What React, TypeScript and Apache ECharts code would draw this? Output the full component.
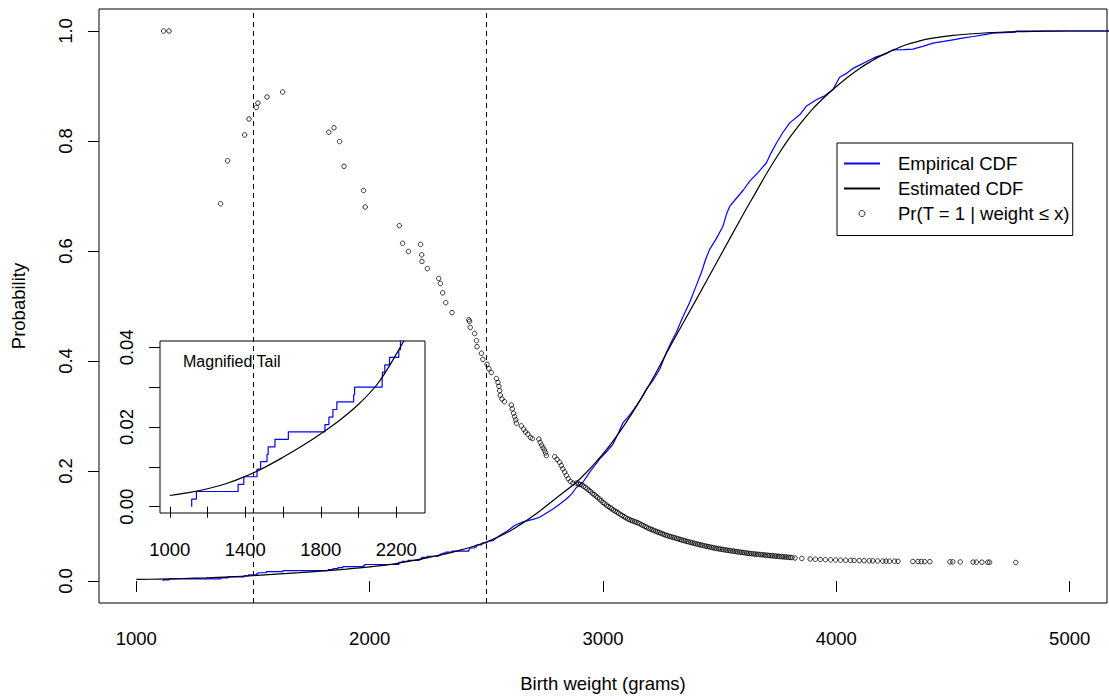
import React, { useEffect, useRef } from "react";
import * as echarts from "echarts";

const FONT = '"Liberation Sans", Arial, Helvetica, sans-serif';
const FS = 18.5;

// ---- Tick values ----
const mainXTicks = [1000, 2000, 3000, 4000, 5000];
const mainYTicks = [0, 0.2, 0.4, 0.6, 0.8, 1.0];
const insetXTicks = [1000, 1200, 1400, 1600, 1800, 2000, 2200];
const insetXLabels = [1000, 1400, 1800, 2200];
const insetYTicks = [0, 0.01, 0.02, 0.03, 0.04];
const insetYLabels = [0, 0.02, 0.04];
const cutoffs = [1500, 2500];

// ---- Estimated CDF (smooth curve) ----
const estX = [1000, 1100, 1200, 1300, 1400, 1500, 1600, 1700, 1800, 1900, 2000, 2100, 2200, 2300, 2400, 2500, 2600, 2700, 2800, 2900, 3000, 3100, 3200, 3300, 3400, 3500, 3600, 3650, 3700, 3750, 3800, 3850, 3900, 3950, 4000, 4050, 4100, 4150, 4200, 4250, 4300, 4350, 4400, 4500, 4600, 4700, 4800, 4900, 5000, 5200];
const estY = [0.0028, 0.0035, 0.0045, 0.0058, 0.0076, 0.0098, 0.0124, 0.0152, 0.0183, 0.0217, 0.0257, 0.0308, 0.0383, 0.047, 0.0575, 0.071, 0.0905, 0.118, 0.151, 0.185, 0.231, 0.289, 0.358, 0.436, 0.512, 0.589, 0.666, 0.703, 0.74, 0.7745, 0.806, 0.834, 0.859, 0.88, 0.899, 0.9165, 0.932, 0.945, 0.957, 0.9665, 0.975, 0.981, 0.986, 0.992, 0.9955, 0.9977, 0.999, 0.9996, 1.0, 1.0];

// ---- Empirical CDF: lower tail as steps ----
const ecdfStepX = [1116, 1116, 1141, 1362, 1392, 1462, 1481, 1515, 1521, 1557, 1628, 1822, 1843, 1864, 1885, 1974, 1979, 2125, 2127, 2139, 2164, 2213, 2222, 2224, 2247, 2296, 2303, 2313, 2326, 2353, 2425, 2428, 2431, 2450, 2458, 2460, 2479, 2485, 2503];
const ecdfStepY = [0, 0.0019, 0.0038, 0.0056, 0.0075, 0.0094, 0.0113, 0.0131, 0.015, 0.0169, 0.0188, 0.0206, 0.0225, 0.0244, 0.0263, 0.0281, 0.03, 0.0319, 0.0338, 0.0356, 0.0375, 0.0394, 0.0413, 0.0431, 0.045, 0.0469, 0.0488, 0.0506, 0.0525, 0.0544, 0.0563, 0.0581, 0.06, 0.0619, 0.0638, 0.0656, 0.0675, 0.0694, 0.0713];

// ---- Empirical CDF: body (dense steps read as a jagged line) ----
const ecdfBodyX = [2503, 2530, 2557, 2590, 2621, 2660, 2700, 2728, 2760, 2786, 2815, 2843, 2865, 2886, 2914, 2943, 2965, 2986, 3015, 3043, 3065, 3086, 3115, 3143, 3165, 3186, 3215, 3243, 3271, 3290, 3314, 3340, 3371, 3395, 3421, 3440, 3457, 3485, 3514, 3530, 3543, 3570, 3600, 3629, 3665, 3700, 3720, 3743, 3770, 3800, 3843, 3871, 3914, 3950, 3986, 4014, 4040, 4071, 4100, 4128, 4171, 4210, 4243, 4290, 4328, 4370, 4414, 4460, 4500, 4540, 4586, 4630, 4671, 4720, 4768, 4769, 5200];
const ecdfBodyY = [0.0713, 0.074, 0.0827, 0.091, 0.101, 0.108, 0.112, 0.116, 0.124, 0.131, 0.14, 0.149, 0.158, 0.17, 0.1796, 0.198, 0.21, 0.222, 0.235, 0.249, 0.268, 0.288, 0.302, 0.3185, 0.333, 0.349, 0.365, 0.385, 0.415, 0.432, 0.4517, 0.478, 0.506, 0.532, 0.56, 0.585, 0.603, 0.622, 0.645, 0.668, 0.681, 0.695, 0.71, 0.727, 0.743, 0.76, 0.778, 0.796, 0.815, 0.833, 0.8476, 0.863, 0.875, 0.882, 0.894, 0.916, 0.922, 0.932, 0.938, 0.944, 0.953, 0.958, 0.9655, 0.966, 0.967, 0.972, 0.978, 0.981, 0.984, 0.987, 0.99, 0.993, 0.996, 0.997, 0.998, 1.0, 1.0];

// ---- Pr(T = 1 | weight <= x) points ----
const prSparseX = [1117, 1140, 1361, 1391, 1464, 1483, 1514, 1521, 1560, 1627, 1825, 1847, 1871, 1890, 1974, 1981, 2127, 2141, 2166, 2218, 2223, 2224, 2247, 2296, 2303, 2313, 2326, 2353, 2425, 2428, 2431, 2450, 2458, 2460, 2479, 2485, 2503, 2511, 2521, 2543, 2550, 2554, 2557, 2560, 2567, 2578, 2607, 2611, 2617, 2621, 2626, 2629, 2650, 2660, 2668, 2678, 2689, 2697, 2725, 2731, 2737, 2743, 2749, 2754, 2757, 2793, 2803, 2814, 2821, 2828, 2836, 2843, 2851, 2860, 2871, 2886];
const prSparseY = [1.0, 1.0, 0.686, 0.764, 0.811, 0.84, 0.861, 0.869, 0.88, 0.889, 0.816, 0.824, 0.799, 0.754, 0.71, 0.68, 0.646, 0.614, 0.599, 0.612, 0.593, 0.581, 0.568, 0.55, 0.541, 0.524, 0.506, 0.488, 0.475, 0.472, 0.461, 0.45, 0.437, 0.426, 0.414, 0.403, 0.394, 0.386, 0.379, 0.368, 0.361, 0.354, 0.346, 0.338, 0.331, 0.326, 0.32, 0.313, 0.305, 0.299, 0.293, 0.287, 0.282, 0.276, 0.271, 0.267, 0.261, 0.259, 0.258, 0.252, 0.247, 0.242, 0.238, 0.233, 0.228, 0.226, 0.221, 0.216, 0.21, 0.204, 0.198, 0.192, 0.186, 0.181, 0.178, 0.178];
const prBandX = [2895, 2910, 2925, 2940, 2955, 2970, 2985, 3000, 3015, 3030, 3045, 3060, 3075, 3090, 3105, 3120, 3135, 3150, 3165, 3180, 3195, 3210, 3225, 3240, 3255, 3270, 3285, 3300, 3315, 3330, 3345, 3360, 3375, 3390, 3405, 3420, 3435, 3450, 3465, 3480, 3495, 3510, 3525, 3540, 3555, 3570, 3585, 3600, 3615, 3630, 3645, 3660, 3675, 3690, 3705, 3720, 3735, 3750, 3765, 3780, 3795, 3810];
const prBandY = [0.1765, 0.1745, 0.17, 0.165, 0.1595, 0.1545, 0.149, 0.143, 0.138, 0.1335, 0.129, 0.1252, 0.121, 0.117, 0.1132, 0.1105, 0.1082, 0.1057, 0.1025, 0.0993, 0.096, 0.0933, 0.0908, 0.0883, 0.0858, 0.0832, 0.0812, 0.0794, 0.0776, 0.0757, 0.0738, 0.072, 0.0703, 0.0687, 0.067, 0.0654, 0.064, 0.0626, 0.0612, 0.0598, 0.0586, 0.0576, 0.0565, 0.0555, 0.0545, 0.0536, 0.0527, 0.0518, 0.0509, 0.05, 0.0493, 0.0487, 0.048, 0.0474, 0.0467, 0.0461, 0.0455, 0.0449, 0.0443, 0.0437, 0.0431, 0.0426];
const prBand2X = [2902, 2917, 2932, 2947, 2962, 2977, 2992, 3007, 3022, 3037, 3052, 3067, 3082, 3097, 3112, 3127, 3142, 3157, 3172, 3187, 3202, 3217, 3232, 3247, 3262, 3277, 3292, 3307, 3322, 3337, 3352, 3367, 3382, 3397, 3412, 3427, 3442, 3457, 3472, 3487, 3502, 3517, 3532, 3547, 3562, 3577, 3592, 3607, 3622, 3637, 3652, 3667, 3682, 3697, 3712, 3727, 3742, 3757, 3772, 3787, 3802];
const prBand2Y = [0.1755, 0.1722, 0.1675, 0.1622, 0.157, 0.1517, 0.146, 0.1405, 0.1357, 0.1312, 0.1271, 0.1231, 0.119, 0.1151, 0.1118, 0.1093, 0.107, 0.1041, 0.1009, 0.0976, 0.0946, 0.092, 0.0895, 0.087, 0.0845, 0.0822, 0.0803, 0.0785, 0.0766, 0.0747, 0.0729, 0.0711, 0.0695, 0.0678, 0.0662, 0.0647, 0.0633, 0.0619, 0.0605, 0.0592, 0.0581, 0.057, 0.056, 0.055, 0.054, 0.0531, 0.0522, 0.0513, 0.0504, 0.0496, 0.049, 0.0483, 0.0477, 0.047, 0.0464, 0.0458, 0.0452, 0.0446, 0.044, 0.0434, 0.0428];
const prTailX = [3823, 3852, 3888, 3910, 3931, 3953, 3975, 3997, 4018, 4040, 4061, 4076, 4098, 4119, 4141, 4156, 4177, 4199, 4213, 4228, 4249, 4264, 4328, 4350, 4364, 4379, 4401, 4487, 4499, 4531, 4586, 4600, 4624, 4649, 4657, 4769];
const prTailY = [0.0418, 0.041, 0.04, 0.0396, 0.0392, 0.0388, 0.0385, 0.0382, 0.0379, 0.0377, 0.0375, 0.0373, 0.0371, 0.0369, 0.0367, 0.0366, 0.0364, 0.0362, 0.0361, 0.036, 0.0359, 0.0358, 0.0355, 0.0354, 0.0353, 0.0352, 0.0351, 0.0348, 0.0348, 0.0346, 0.0344, 0.0343, 0.0342, 0.0341, 0.0341, 0.0337];

const NAME_EMP = "Empirical CDF";
const NAME_EST = "Estimated CDF";
const NAME_PR = "Pr(T = 1 | weight \u2264 x)";

const zip = (xs: number[], ys: number[]) => xs.map((x, i) => [x, ys[i]]);

const txt = { fontSize: FS, color: "#000", fontFamily: FONT };
const plain = (v: number) => String(v);

function buildOption() {
  const blue = "#0000ff";
  const lineW = 1.2;
  const curveSeries = (xi: number, z: number) => [
    {
      type: "line",
      name: NAME_EMP,
      xAxisIndex: xi,
      yAxisIndex: xi,
      step: "end",
      data: zip(ecdfStepX, ecdfStepY),
      symbol: "none",
      lineStyle: { color: blue, width: lineW },
      itemStyle: { color: blue },
      z,
      silent: true,
      clip: true,
    },
    {
      type: "line",
      name: NAME_EMP,
      xAxisIndex: xi,
      yAxisIndex: xi,
      data: zip(ecdfBodyX, ecdfBodyY),
      symbol: "none",
      lineStyle: { color: blue, width: lineW },
      itemStyle: { color: blue },
      z,
      silent: true,
      clip: true,
    },
    {
      type: "line",
      name: NAME_EST,
      xAxisIndex: xi,
      yAxisIndex: xi,
      data: zip(estX, estY),
      smooth: 0.35,
      symbol: "none",
      lineStyle: { color: "#000", width: lineW },
      itemStyle: { color: "#000" },
      z,
      silent: true,
      clip: true,
      ...(xi === 0
        ? {
            markLine: {
              silent: true,
              symbol: ["none", "none"],
              label: { show: false },
              lineStyle: { color: "#000", type: [5, 4], width: 1 },
              data: cutoffs.map((c) => ({ xAxis: c })),
            },
          }
        : {}),
    },
  ];

  const hiddenDot = { color: "rgba(0,0,0,0)", borderColor: "rgba(0,0,0,0)", borderWidth: 0 };

  return {
    animation: false,
    backgroundColor: "#fff",
    textStyle: { fontFamily: FONT },
    grid: [
      { left: 99, top: 9, width: 1008, height: 594, show: true, borderColor: "#000", borderWidth: 1, backgroundColor: "transparent" },
      { left: 160, top: 341, width: 265, height: 172, show: true, borderColor: "#000", borderWidth: 1, backgroundColor: "#fff", z: 3 },
    ],
    legend: {
      show: true,
      orient: "vertical",
      left: 837,
      top: 143,
      padding: [10.5, 3, 12, 6],
      itemWidth: 36,
      itemHeight: 6,
      itemGap: 5,
      borderColor: "#000",
      borderWidth: 1,
      backgroundColor: "#fff",
      selectedMode: false,
      textStyle: { ...txt, lineHeight: 20, padding: [0, 0, 0, 13] },
      data: [
        { name: NAME_EMP, itemStyle: hiddenDot },
        { name: NAME_EST, itemStyle: hiddenDot },
        { name: NAME_PR, itemStyle: { color: "rgba(0,0,0,0)", borderColor: "#000", borderWidth: 1 } },
      ],
    },
    xAxis: [
      {
        type: "value",
        gridIndex: 0,
        min: 840,
        max: 5160,
        name: "Birth weight (grams)",
        nameLocation: "middle",
        nameGap: 70,
        nameTextStyle: { ...txt, lineHeight: 21 },
        axisLine: { show: false },
        splitLine: { show: false },
        axisTick: { show: true, customValues: mainXTicks, length: 11, lineStyle: { color: "#000", width: 1 } },
        axisLabel: { customValues: mainXTicks, margin: 25, ...txt, lineHeight: 21, formatter: plain },
      },
      {
        type: "value",
        gridIndex: 1,
        min: 948,
        max: 2352,
        z: 4,
        axisLine: { show: false },
        splitLine: { show: false },
        axisTick: { show: true, customValues: insetXTicks, length: 11, lineStyle: { color: "#000", width: 1 } },
        axisLabel: { customValues: insetXLabels, margin: 26, ...txt, lineHeight: 21, formatter: plain },
      },
    ],
    yAxis: [
      {
        type: "value",
        gridIndex: 0,
        min: -0.04,
        max: 1.04,
        name: "Probability",
        nameLocation: "middle",
        nameGap: 70,
        nameRotate: 90,
        nameTextStyle: { ...txt, lineHeight: 21 },
        axisLine: { show: false },
        splitLine: { show: false },
        axisTick: { show: true, customValues: mainYTicks, length: 11, lineStyle: { color: "#000", width: 1 } },
        axisLabel: {
          customValues: mainYTicks,
          rotate: 90,
          margin: 23,
          ...txt,
          lineHeight: 21,
          formatter: (v: number) => v.toFixed(1),
        },
      },
      {
        type: "value",
        gridIndex: 1,
        min: -0.0016,
        max: 0.0416,
        z: 4,
        axisLine: { show: false },
        splitLine: { show: false },
        axisTick: { show: true, customValues: insetYTicks, length: 11, lineStyle: { color: "#000", width: 1 } },
        axisLabel: {
          customValues: insetYLabels,
          rotate: 90,
          margin: 23,
          ...txt,
          lineHeight: 21,
          formatter: (v: number) => v.toFixed(2),
        },
      },
    ],
    graphic: [
      {
        type: "text",
        left: 183,
        top: 353,
        z: 20,
        silent: true,
        style: { text: "Magnified Tail", fontSize: 16, fill: "#000", fontFamily: FONT },
      },
    ],
    series: [
      ...curveSeries(0, 2),
      {
        type: "scatter",
        name: NAME_PR,
        xAxisIndex: 0,
        yAxisIndex: 0,
        data: [
          ...zip(prSparseX, prSparseY),
          ...zip(prBandX, prBandY),
          ...zip(prBand2X, prBand2Y),
          ...zip(prTailX, prTailY),
        ],
        symbol: "circle",
        symbolSize: 4.5,
        itemStyle: { color: "rgba(0,0,0,0)", borderColor: "#000", borderWidth: 1 },
        z: 2,
        silent: true,
      },
      ...curveSeries(1, 5),
    ],
  };
}

export default function App() {
  const ref = useRef<HTMLDivElement | null>(null);
  useEffect(() => {
    if (!ref.current) return;
    const chart = echarts.init(ref.current, null, { renderer: "svg" });
    chart.setOption(buildOption() as any);
    return () => chart.dispose();
  }, []);
  return (
    <div
      ref={ref}
      style={{ position: "fixed", left: 0, top: 0, width: 1109, height: 699, background: "#fff" }}
    />
  );
}
